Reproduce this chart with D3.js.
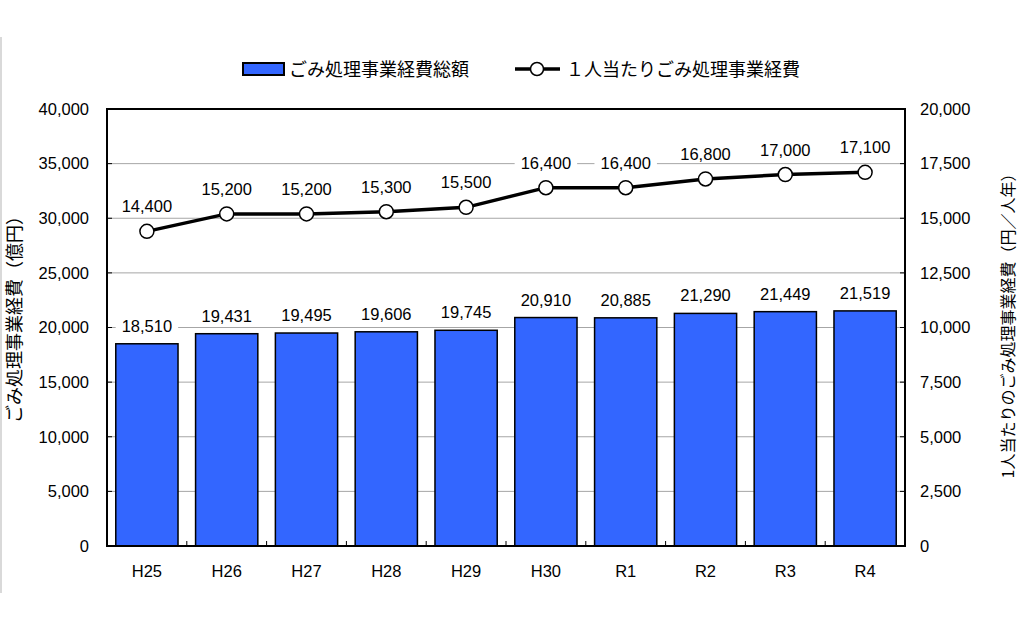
<!DOCTYPE html>
<html>
<head>
<meta charset="utf-8">
<script src="https://cdn.jsdelivr.net/npm/d3@7"></script>
<style>
  body { margin: 0; background: #fff; }
  text { font-family: "Liberation Sans", Arial, "Noto Sans CJK JP", sans-serif; fill: #000; }
  .jp { font-family: "Noto Sans CJK JP", sans-serif; }
</style>
</head>
<body>
<div id="chart"></div>
<script>
// data
const years = ["H25", "H26", "H27", "H28", "H29", "H30", "R1", "R2", "R3", "R4"];
const totalCost = [18510, 19431, 19495, 19606, 19745, 20910, 20885, 21290, 21449, 21519];
const perCapita = [14400, 15200, 15200, 15300, 15500, 16400, 16400, 16800, 17000, 17100];
const leftTicks = [0, 5000, 10000, 15000, 20000, 25000, 30000, 35000, 40000];
const rightTicks = [0, 2500, 5000, 7500, 10000, 12500, 15000, 17500, 20000];

const drawChart = () => {
  const width = 1024;
  const height = 633;
  const margin = { top: 109, right: 119, bottom: 87, left: 107 };
  const fmt = d3.format(",");
  const numSize = 16.5;

  const svg = d3.select("#chart")
                .append("svg")
                .attr("width", width)
                .attr("height", height);

  // faint frame line at left edge
  svg.append("line")
     .attr("x1", 1).attr("x2", 1).attr("y1", 37).attr("y2", 593)
     .attr("stroke", "#ccc").attr("stroke-width", 1.5);

  const x = d3.scaleBand()
              .domain(years)
              .range([margin.left, width - margin.right])
              .paddingInner(0.22)
              .paddingOuter(0.11);

  const yL = d3.scaleLinear().domain([0, 40000]).range([height - margin.bottom, margin.top]);
  const yR = d3.scaleLinear().domain([0, 20000]).range([height - margin.bottom, margin.top]);

  const x0 = margin.left, x1 = width - margin.right;
  const yTop = margin.top, yBot = height - margin.bottom;

  // grid
  svg.append("g")
     .selectAll("line")
     .data(leftTicks.slice(1, -1))
     .join("line")
     .attr("x1", x0).attr("x2", x1)
     .attr("y1", d => yL(d)).attr("y2", d => yL(d))
     .attr("stroke", "#a6a6a6").attr("stroke-width", 1);

  // left axis
  const axL = svg.append("g")
     .attr("transform", `translate(${x0},0)`)
     .call(d3.axisLeft(yL).tickValues(leftTicks).tickFormat(fmt).tickSize(0).tickPadding(18));
  axL.select(".domain").remove();
  axL.selectAll("text").attr("font-size", numSize).style("font-family", "Liberation Sans, Arial, sans-serif");

  // right axis
  const axR = svg.append("g")
     .attr("transform", `translate(${x1},0)`)
     .call(d3.axisRight(yR).tickValues(rightTicks).tickFormat(fmt).tickSize(0).tickPadding(15));
  axR.select(".domain").remove();
  axR.selectAll("text").attr("font-size", numSize).style("font-family", "Liberation Sans, Arial, sans-serif");

  // inner tick marks on y axes
  svg.append("g").selectAll("line").data(leftTicks).join("line")
     .attr("x1", x0).attr("x2", x0 + 5)
     .attr("y1", d => yL(d)).attr("y2", d => yL(d))
     .attr("stroke", "#000");
  svg.append("g").selectAll("line").data(rightTicks).join("line")
     .attr("x1", x1 - 5).attr("x2", x1)
     .attr("y1", d => yR(d)).attr("y2", d => yR(d))
     .attr("stroke", "#000");

  // bottom category boundary ticks
  const step = x.step();
  svg.append("g").selectAll("line").data(years.slice(1)).join("line")
     .attr("x1", d => x(d) - step * x.paddingInner() / 2)
     .attr("x2", d => x(d) - step * x.paddingInner() / 2)
     .attr("y1", yBot).attr("y2", yBot - 5)
     .attr("stroke", "#000");

  // category labels
  svg.append("g").selectAll("text").data(years).join("text")
     .attr("x", d => x(d) + x.bandwidth() / 2)
     .attr("y", yBot + 31)
     .attr("text-anchor", "middle")
     .attr("font-size", numSize)
     .text(d => d);

  // bars
  svg.append("g").selectAll("rect").data(totalCost).join("rect")
     .attr("x", (d, i) => x(years[i]))
     .attr("y", d => yL(d))
     .attr("width", x.bandwidth())
     .attr("height", d => yBot - yL(d))
     .attr("fill", "#3366ff")
     .attr("stroke", "#000")
     .attr("stroke-width", 1.5);

  // plot frame
  svg.append("rect")
     .attr("x", x0).attr("y", yTop)
     .attr("width", x1 - x0).attr("height", yBot - yTop)
     .attr("fill", "none").attr("stroke", "#000").attr("stroke-width", 2);

  // labels with white background
  const addLabel = (g, tx, ty, str) => {
    const t = g.append("text")
       .attr("x", tx).attr("y", ty)
       .attr("text-anchor", "middle")
       .attr("font-size", numSize)
       .text(str);
    const bb = t.node().getBBox();
    g.insert("rect", "text")
     .attr("x", bb.x - 6).attr("y", bb.y)
     .attr("width", bb.width + 12).attr("height", bb.height)
     .attr("fill", "#fff");
  };

  const barLabels = svg.append("g");
  totalCost.forEach((d, i) => {
    const g = barLabels.append("g");
    addLabel(g, x(years[i]) + x.bandwidth() / 2, yL(d) - 12, fmt(d));
  });

  // line
  const cx = (d, i) => x(years[i]) + x.bandwidth() / 2;
  const line = d3.line().x(cx).y(d => yR(d));
  svg.append("path")
     .datum(perCapita)
     .attr("d", line)
     .attr("fill", "none")
     .attr("stroke", "#000")
     .attr("stroke-width", 3.5);

  svg.append("g").selectAll("circle").data(perCapita).join("circle")
     .attr("cx", cx)
     .attr("cy", d => yR(d))
     .attr("r", 7)
     .attr("fill", "#fff")
     .attr("stroke", "#000")
     .attr("stroke-width", 1.5);

  const lineLabels = svg.append("g");
  perCapita.forEach((d, i) => {
    const g = lineLabels.append("g");
    addLabel(g, cx(d, i), yR(d) - 19, fmt(d));
  });

  // axis titles
  svg.append("text")
     .attr("class", "jp")
     .attr("transform", `translate(21,315) rotate(-90)`)
     .attr("text-anchor", "middle")
     .attr("font-size", 18)
     .text("ごみ処理事業経費（億円）");

  svg.append("text")
     .attr("class", "jp")
     .attr("transform", `translate(1014,322) rotate(-90)`)
     .attr("text-anchor", "middle")
     .attr("font-size", 16)
     .text("1人当たりのごみ処理事業経費（円／人年）");

  // legend
  const lg = svg.append("g");
  lg.append("rect")
    .attr("x", 243).attr("y", 63).attr("width", 41).attr("height", 12)
    .attr("fill", "#3366ff").attr("stroke", "#000").attr("stroke-width", 2);
  lg.append("text").attr("class", "jp")
    .attr("x", 289).attr("y", 76).attr("font-size", 18)
    .text("ごみ処理事業経費総額");
  lg.append("line")
    .attr("x1", 515).attr("x2", 560).attr("y1", 69).attr("y2", 69)
    .attr("stroke", "#000").attr("stroke-width", 3.5);
  lg.append("circle")
    .attr("cx", 537).attr("cy", 69).attr("r", 6.5)
    .attr("fill", "#fff").attr("stroke", "#000").attr("stroke-width", 1.5);
  lg.append("text").attr("class", "jp")
    .attr("x", 566).attr("y", 76).attr("font-size", 18)
    .text("１人当たりごみ処理事業経費");
};

drawChart();
</script>
</body>
</html>
